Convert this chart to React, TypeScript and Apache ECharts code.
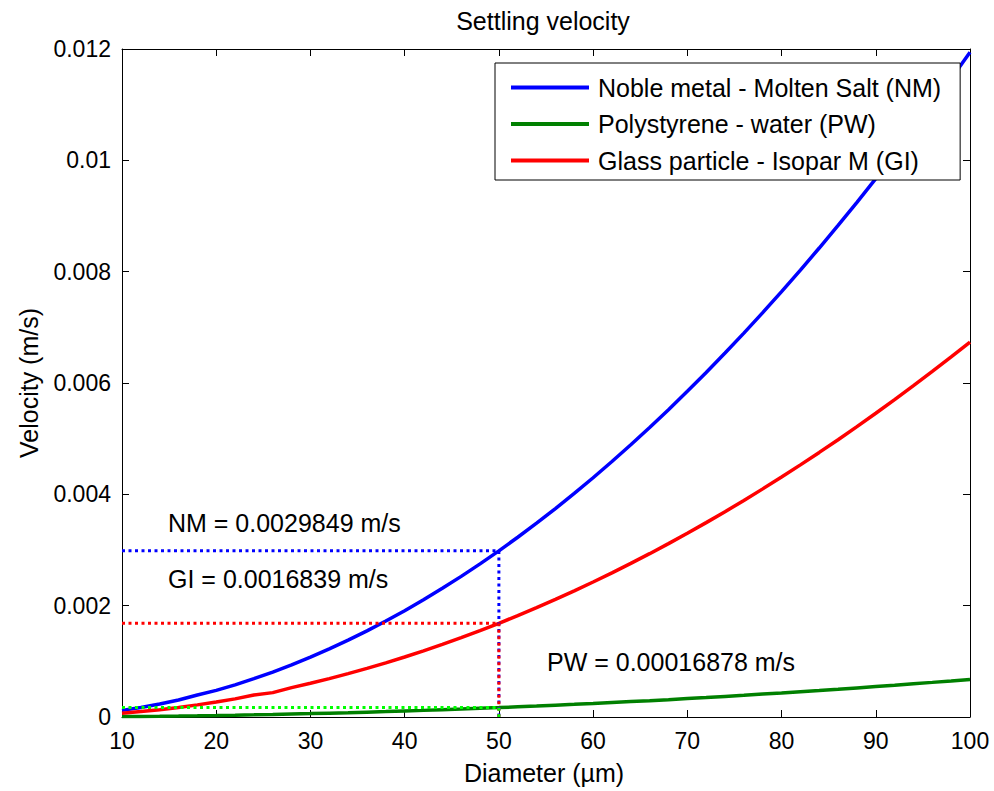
import React, { useEffect, useRef } from "react";
import * as echarts from "echarts";

// Particle diameter (µm) sampled every 2 µm
const diameters = [
  10, 12, 14, 16, 18, 20, 22, 24, 26, 28, 30, 32, 34, 36, 38, 40, 42, 44, 46, 48,
  50, 52, 54, 56, 58, 60, 62, 64, 66, 68, 70, 72, 74, 76, 78, 80, 82, 84, 86, 88,
  90, 92, 94, 96, 98, 100,
];

// Settling velocity (m/s): Noble metal - Molten Salt
const nmVelocity = [
  0.000119, 0.000172, 0.000234, 0.000306, 0.000395, 0.000478, 0.000578, 0.000688,
  0.000807, 0.000936, 0.001075, 0.001223, 0.00138, 0.001547, 0.001724, 0.00191,
  0.002106, 0.002312, 0.002526, 0.002751, 0.0029849, 0.003229, 0.003482, 0.003744,
  0.004017, 0.004298, 0.00459, 0.004891, 0.005201, 0.005521, 0.00585, 0.006189,
  0.006538, 0.006896, 0.007264, 0.007641, 0.008028, 0.008425, 0.00883, 0.009246,
  0.009671, 0.010106, 0.01055, 0.011004, 0.011467, 0.01194,
];

// Settling velocity (m/s): Polystyrene - water
const pwVelocity = [
  0.0000068, 0.0000097, 0.0000132, 0.0000173, 0.0000219, 0.000027, 0.0000327,
  0.0000389, 0.0000456, 0.0000529, 0.0000608, 0.0000691, 0.000078, 0.0000875,
  0.0000975, 0.000108, 0.000119, 0.000131, 0.000143, 0.000156, 0.00016878,
  0.000183, 0.000197, 0.000212, 0.000227, 0.000243, 0.00026, 0.000277, 0.000294,
  0.000312, 0.000331, 0.00035, 0.00037, 0.00039, 0.000411, 0.000432, 0.000454,
  0.000476, 0.000499, 0.000523, 0.000547, 0.000571, 0.000597, 0.000622, 0.000648,
  0.000675,
];

// Settling velocity (m/s): Glass particle - Isopar M
const giVelocity = [
  0.0000674, 0.000097, 0.000132, 0.000172, 0.000218, 0.000269, 0.000326, 0.000396,
  0.000438, 0.000528, 0.000606, 0.00069, 0.000779, 0.000873, 0.000973, 0.001078,
  0.001188, 0.001304, 0.001425, 0.001552, 0.0016839, 0.001821, 0.001964, 0.002112,
  0.002266, 0.002425, 0.002589, 0.002759, 0.002934, 0.003115, 0.0033, 0.003492,
  0.003688, 0.003891, 0.004098, 0.004311, 0.004529, 0.004753, 0.004981, 0.005216,
  0.005456, 0.005701, 0.005952, 0.006207, 0.006469, 0.006736,
];

// Highlighted diameter and the velocities read there
const markDiameter = 50;
const nmAtMark = 0.0029849;
const giAtMark = 0.0016839;
const pwAtMark = 0.00016878;

const seriesNames = [
  "Noble metal - Molten Salt (NM)",
  "Polystyrene - water (PW)",
  "Glass particle - Isopar M (GI)",
];

const xTicks = { min: 10, max: 100, interval: 10 };
const yTicks = { min: 0, max: 0.012, interval: 0.002 };

const FONT = "'Liberation Sans', Arial, Helvetica, sans-serif";

const zip = (xs: number[], ys: number[]) => xs.map((x, i) => [x, ys[i]]);

const guide = (v: number) => [
  [xTicks.min, v],
  [markDiameter, v],
  [markDiameter, 0],
];

export default function App() {
  const ref = useRef<HTMLDivElement>(null);

  useEffect(() => {
    if (!ref.current) return;
    const chart = echarts.init(ref.current, null, { renderer: "svg" });

    const tickStyle = { show: true, inside: true, length: 7, lineStyle: { color: "#000", width: 1 } };
    const lineStyleAxis = { show: true, onZero: false, lineStyle: { color: "#000", width: 1 } };

    const dotted = (name: string, color: string, data: number[][]) => ({
      name,
      type: "line",
      data,
      showSymbol: false,
      symbol: "none",
      silent: true,
      lineStyle: { color, width: 3, type: [3, 3.5] },
      z: 3,
    });

    chart.setOption({
      animation: false,
      backgroundColor: "#fff",
      textStyle: { fontFamily: FONT },
      grid: { left: 122, right: 24, top: 49, bottom: 74, containLabel: false },
      xAxis: [
        {
          type: "value",
          ...xTicks,
          axisLine: lineStyleAxis,
          axisTick: tickStyle,
          splitLine: { show: false },
          axisLabel: { color: "#000", fontSize: 23, margin: 12, fontFamily: FONT },
        },
        {
          type: "value",
          position: "top",
          ...xTicks,
          axisLine: lineStyleAxis,
          axisTick: tickStyle,
          splitLine: { show: false },
          axisLabel: { show: false },
        },
      ],
      yAxis: [
        {
          type: "value",
          ...yTicks,
          axisLine: lineStyleAxis,
          axisTick: tickStyle,
          splitLine: { show: false },
          axisLabel: {
            color: "#000",
            fontSize: 23,
            margin: 11,
            fontFamily: FONT,
            formatter: (v: number) => String(parseFloat(v.toFixed(4))),
          },
        },
        {
          type: "value",
          position: "right",
          ...yTicks,
          axisLine: lineStyleAxis,
          axisTick: tickStyle,
          splitLine: { show: false },
          axisLabel: { show: false },
        },
      ],
      legend: {
        data: seriesNames.map((n) => ({ name: n, icon: "rect" })),
        orient: "vertical",
        left: 495,
        top: 63,
        padding: [12, 19, 7, 16],
        backgroundColor: "#fff",
        borderColor: "#000",
        borderWidth: 1,
        borderRadius: 0,
        itemWidth: 78,
        itemHeight: 4,
        itemGap: 11.5,
        selectedMode: false,
        textStyle: { color: "#000", fontSize: 25, fontFamily: FONT, padding: [0, 0, 0, 4] },
      },
      series: [
        {
          name: seriesNames[0],
          type: "line",
          data: zip(diameters, nmVelocity),
          showSymbol: false,
          symbol: "none",
          color: "#0000ff",
          lineStyle: { color: "#0000ff", width: 3.5 },
          z: 2,
        },
        {
          name: seriesNames[1],
          type: "line",
          data: zip(diameters, pwVelocity),
          showSymbol: false,
          symbol: "none",
          color: "#008000",
          lineStyle: { color: "#008000", width: 3.5 },
          z: 2,
        },
        {
          name: seriesNames[2],
          type: "line",
          data: zip(diameters, giVelocity),
          showSymbol: false,
          symbol: "none",
          color: "#ff0000",
          lineStyle: { color: "#ff0000", width: 3.5 },
          z: 2,
        },
        dotted("NM guide", "#0000ff", guide(nmAtMark)),
        dotted("GI guide", "#ff0000", guide(giAtMark)),
        dotted("PW guide", "#00ff00", guide(pwAtMark)),
      ],
      graphic: [
        {
          type: "text",
          x: 543,
          y: 21,
          style: { text: "Settling velocity", fill: "#000", font: `25px ${FONT}`, align: "center", verticalAlign: "middle" },
        },
        {
          type: "text",
          x: 544,
          y: 773,
          style: { text: "Diameter (µm)", fill: "#000", font: `25px ${FONT}`, align: "center", verticalAlign: "middle" },
        },
        {
          type: "text",
          x: 29,
          y: 383,
          rotation: Math.PI / 2,
          style: { text: "Velocity (m/s)", fill: "#000", font: `25px ${FONT}`, align: "center", verticalAlign: "middle" },
        },
        {
          type: "text",
          x: 168,
          y: 523,
          style: { text: `NM = ${nmAtMark} m/s`, fill: "#000", font: `25px ${FONT}`, verticalAlign: "middle" },
        },
        {
          type: "text",
          x: 168,
          y: 579,
          style: { text: `GI = ${giAtMark} m/s`, fill: "#000", font: `25px ${FONT}`, verticalAlign: "middle" },
        },
        {
          type: "text",
          x: 547,
          y: 662,
          style: { text: `PW = ${pwAtMark} m/s`, fill: "#000", font: `25px ${FONT}`, verticalAlign: "middle" },
        },
      ],
    });

    return () => chart.dispose();
  }, []);

  return (
    <div
      ref={ref}
      style={{ position: "fixed", left: 0, top: 0, width: 994, height: 791, background: "#fff" }}
    />
  );
}
